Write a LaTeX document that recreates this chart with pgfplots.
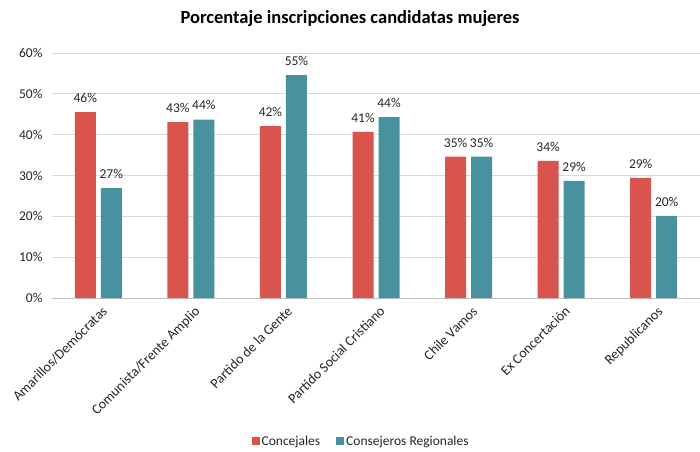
\documentclass[border=0pt]{standalone}
\usepackage{pgfplots}
\pgfplotsset{compat=1.18}
\usepackage{fontspec}
\setmainfont{Carlito}
\definecolor{cred}{HTML}{D9544D}
\definecolor{cteal}{HTML}{48919E}
\definecolor{cgrid}{HTML}{D9D9D9}
\begin{document}
\begin{tikzpicture}
\useasboundingbox (0,0) rectangle (700pt,451pt);
\begin{axis}[
  at={(52pt,153pt)}, anchor=south west,
  scale only axis, width=648pt, height=245pt,
  xmin=-0.5, xmax=6.5, ymin=0, ymax=60,
  ybar=5pt, bar width=21pt,
  axis line style={draw=none},
  ymajorgrids, grid style={cgrid, line width=1pt},
  major tick length=0pt,
  ytick={0,10,20,30,40,50,60},
  yticklabels={0\%,10\%,20\%,30\%,40\%,50\%,60\%},
  yticklabel style={font=\fontsize{13.5}{15}\selectfont, color=black!85, xshift=-6pt},
  xtick={0,1,2,3,4,5,6},
  xticklabels={Amarillos/Demócratas,Comunista/Frente Amplio,Partido de la Gente,Partido Social Cristiano,Chile Vamos,Ex Concertación,Republicanos},
  xticklabel style={font=\fontsize{14}{16}\selectfont, color=black!85, rotate=45, anchor=north east, inner sep=1pt, yshift=-6pt, xshift=-2pt},
  point meta=explicit symbolic,
  nodes near coords={\pgfplotspointmeta},
  nodes near coords style={font=\fontsize{13.5}{15}\selectfont, color=black!85, anchor=south, yshift=6pt},
  title={\textbf{Porcentaje inscripciones candidatas mujeres}},
  title style={font=\fontsize{18.5}{21}\selectfont, at={(0.46,1.115)}, anchor=center},
  legend style={at={(0.477,-0.585)}, anchor=center, draw=none, legend columns=2,
    font=\fontsize{13.5}{15}\selectfont, text=black!85,
    /tikz/every even column/.append style={column sep=14pt}},
  legend image code/.code={\fill[#1] (0pt,-4pt) rectangle (8pt,4pt);},
]
\draw[black!25, line width=1pt] (axis cs:-0.5,0) -- (axis cs:6.5,0);
\addplot[fill=cred, draw=none] coordinates {
 (0,45.5)[46\%] (1,43.1)[43\%] (2,42.1)[42\%] (3,40.7)[41\%] (4,34.6)[35\%] (5,33.6)[34\%] (6,29.4)[29\%]};
\addplot[fill=cteal, draw=none] coordinates {
 (0,26.9)[27\%] (1,43.7)[44\%] (2,54.6)[55\%] (3,44.3)[44\%] (4,34.6)[35\%] (5,28.7)[29\%] (6,20.1)[20\%]};
\legend{Concejales,Consejeros Regionales}
\end{axis}
\end{tikzpicture}
\end{document}
